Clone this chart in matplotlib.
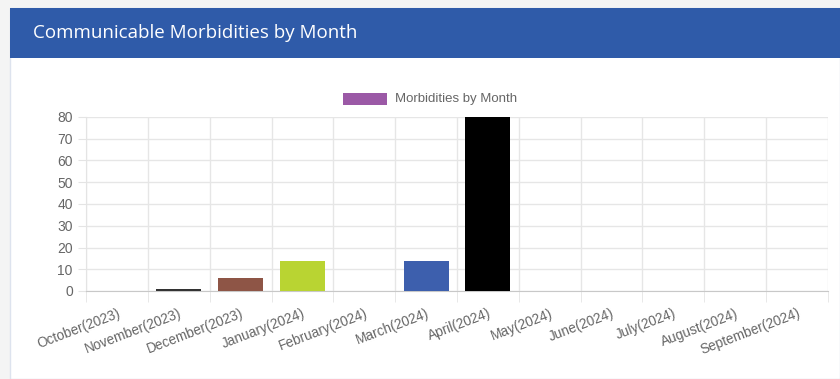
import numpy as np
import matplotlib.pyplot as plt
from matplotlib.patches import Rectangle

months = ['October(2023)', 'November(2023)', 'December(2023)', 'January(2024)',
          'February(2024)', 'March(2024)', 'April(2024)', 'May(2024)',
          'June(2024)', 'July(2024)', 'August(2024)', 'September(2024)']
counts = [0, 1, 6, 14, 0, 14, 80, 0, 0, 0, 0, 0]
bar_colors = ['#9b59a6', '#333333', '#8e5546', '#b9d432', '#9b59a6', '#3d5fad',
              '#000000', '#9b59a6', '#9b59a6', '#9b59a6', '#9b59a6', '#9b59a6']
series_name = 'Morbidities by Month'
title = 'Communicable Morbidities by Month'

fig = plt.figure(figsize=(8.4, 3.79), dpi=100)
fig.patch.set_facecolor('#f4f4f4')

# card + header band
fig.patches.append(Rectangle((10 / 840, 0), 830 / 840, 1 - 8 / 379,
                             transform=fig.transFigure, facecolor='white',
                             edgecolor='#dde3ee', lw=1, zorder=-2))
fig.patches.append(Rectangle((10 / 840, 1 - 58 / 379), 830 / 840, 50 / 379,
                             transform=fig.transFigure, facecolor='#2f5ba9',
                             edgecolor='none', zorder=-1))
fig.text(33 / 840, 1 - 33 / 379, title, color='white', fontsize=13.5,
         family='Open Sans', va='center', ha='left')

ax = fig.add_axes([86 / 840, 1 - 291 / 379, 742 / 840, 174 / 379])
ax.set_zorder(2)
ax.patch.set_facecolor('white')
x = np.arange(len(months))
ax.bar(x, counts, width=0.73, color=bar_colors, zorder=3)

ax.set_xlim(-0.5, len(months) - 0.5)
ax.set_ylim(0, 80)
ax.set_yticks(range(0, 81, 10))
ax.set_xticks(x)
ax.set_xticklabels(months, rotation=21, ha='right', rotation_mode='anchor',
                   family='Liberation Sans', fontsize=9.8, color='#666666')
ax.set_xticks(np.arange(-0.5, len(months)), minor=True)
ax.tick_params(axis='x', which='major', length=0, pad=11)
ax.tick_params(axis='x', which='minor', length=8, color='#e4e4e4')
ax.tick_params(axis='y', length=6, color='#e4e4e4', labelcolor='#666666',
               labelsize=10)
for lab in ax.get_yticklabels():
    lab.set_family('Liberation Sans')

ax.grid(True, axis='y', color='#e6e6e6', lw=1, zorder=0)
ax.grid(True, axis='x', which='minor', color='#e6e6e6', lw=1, zorder=0)
for s in ['top', 'right']:
    ax.spines[s].set_visible(False)
ax.spines['left'].set_color('#e4e4e4')
ax.spines['bottom'].set_color('#c8c8c8')

# legend
fig.patches.append(Rectangle((343 / 840, 1 - 105 / 379), 44 / 840, 12 / 379,
                             transform=fig.transFigure, facecolor='#9b59a6',
                             edgecolor='none', zorder=2))
fig.text(395 / 840, 1 - 99 / 379, series_name, color='#666666', fontsize=9.5,
         family='Liberation Sans', va='center', ha='left')

plt.savefig('out.png', dpi=100)
